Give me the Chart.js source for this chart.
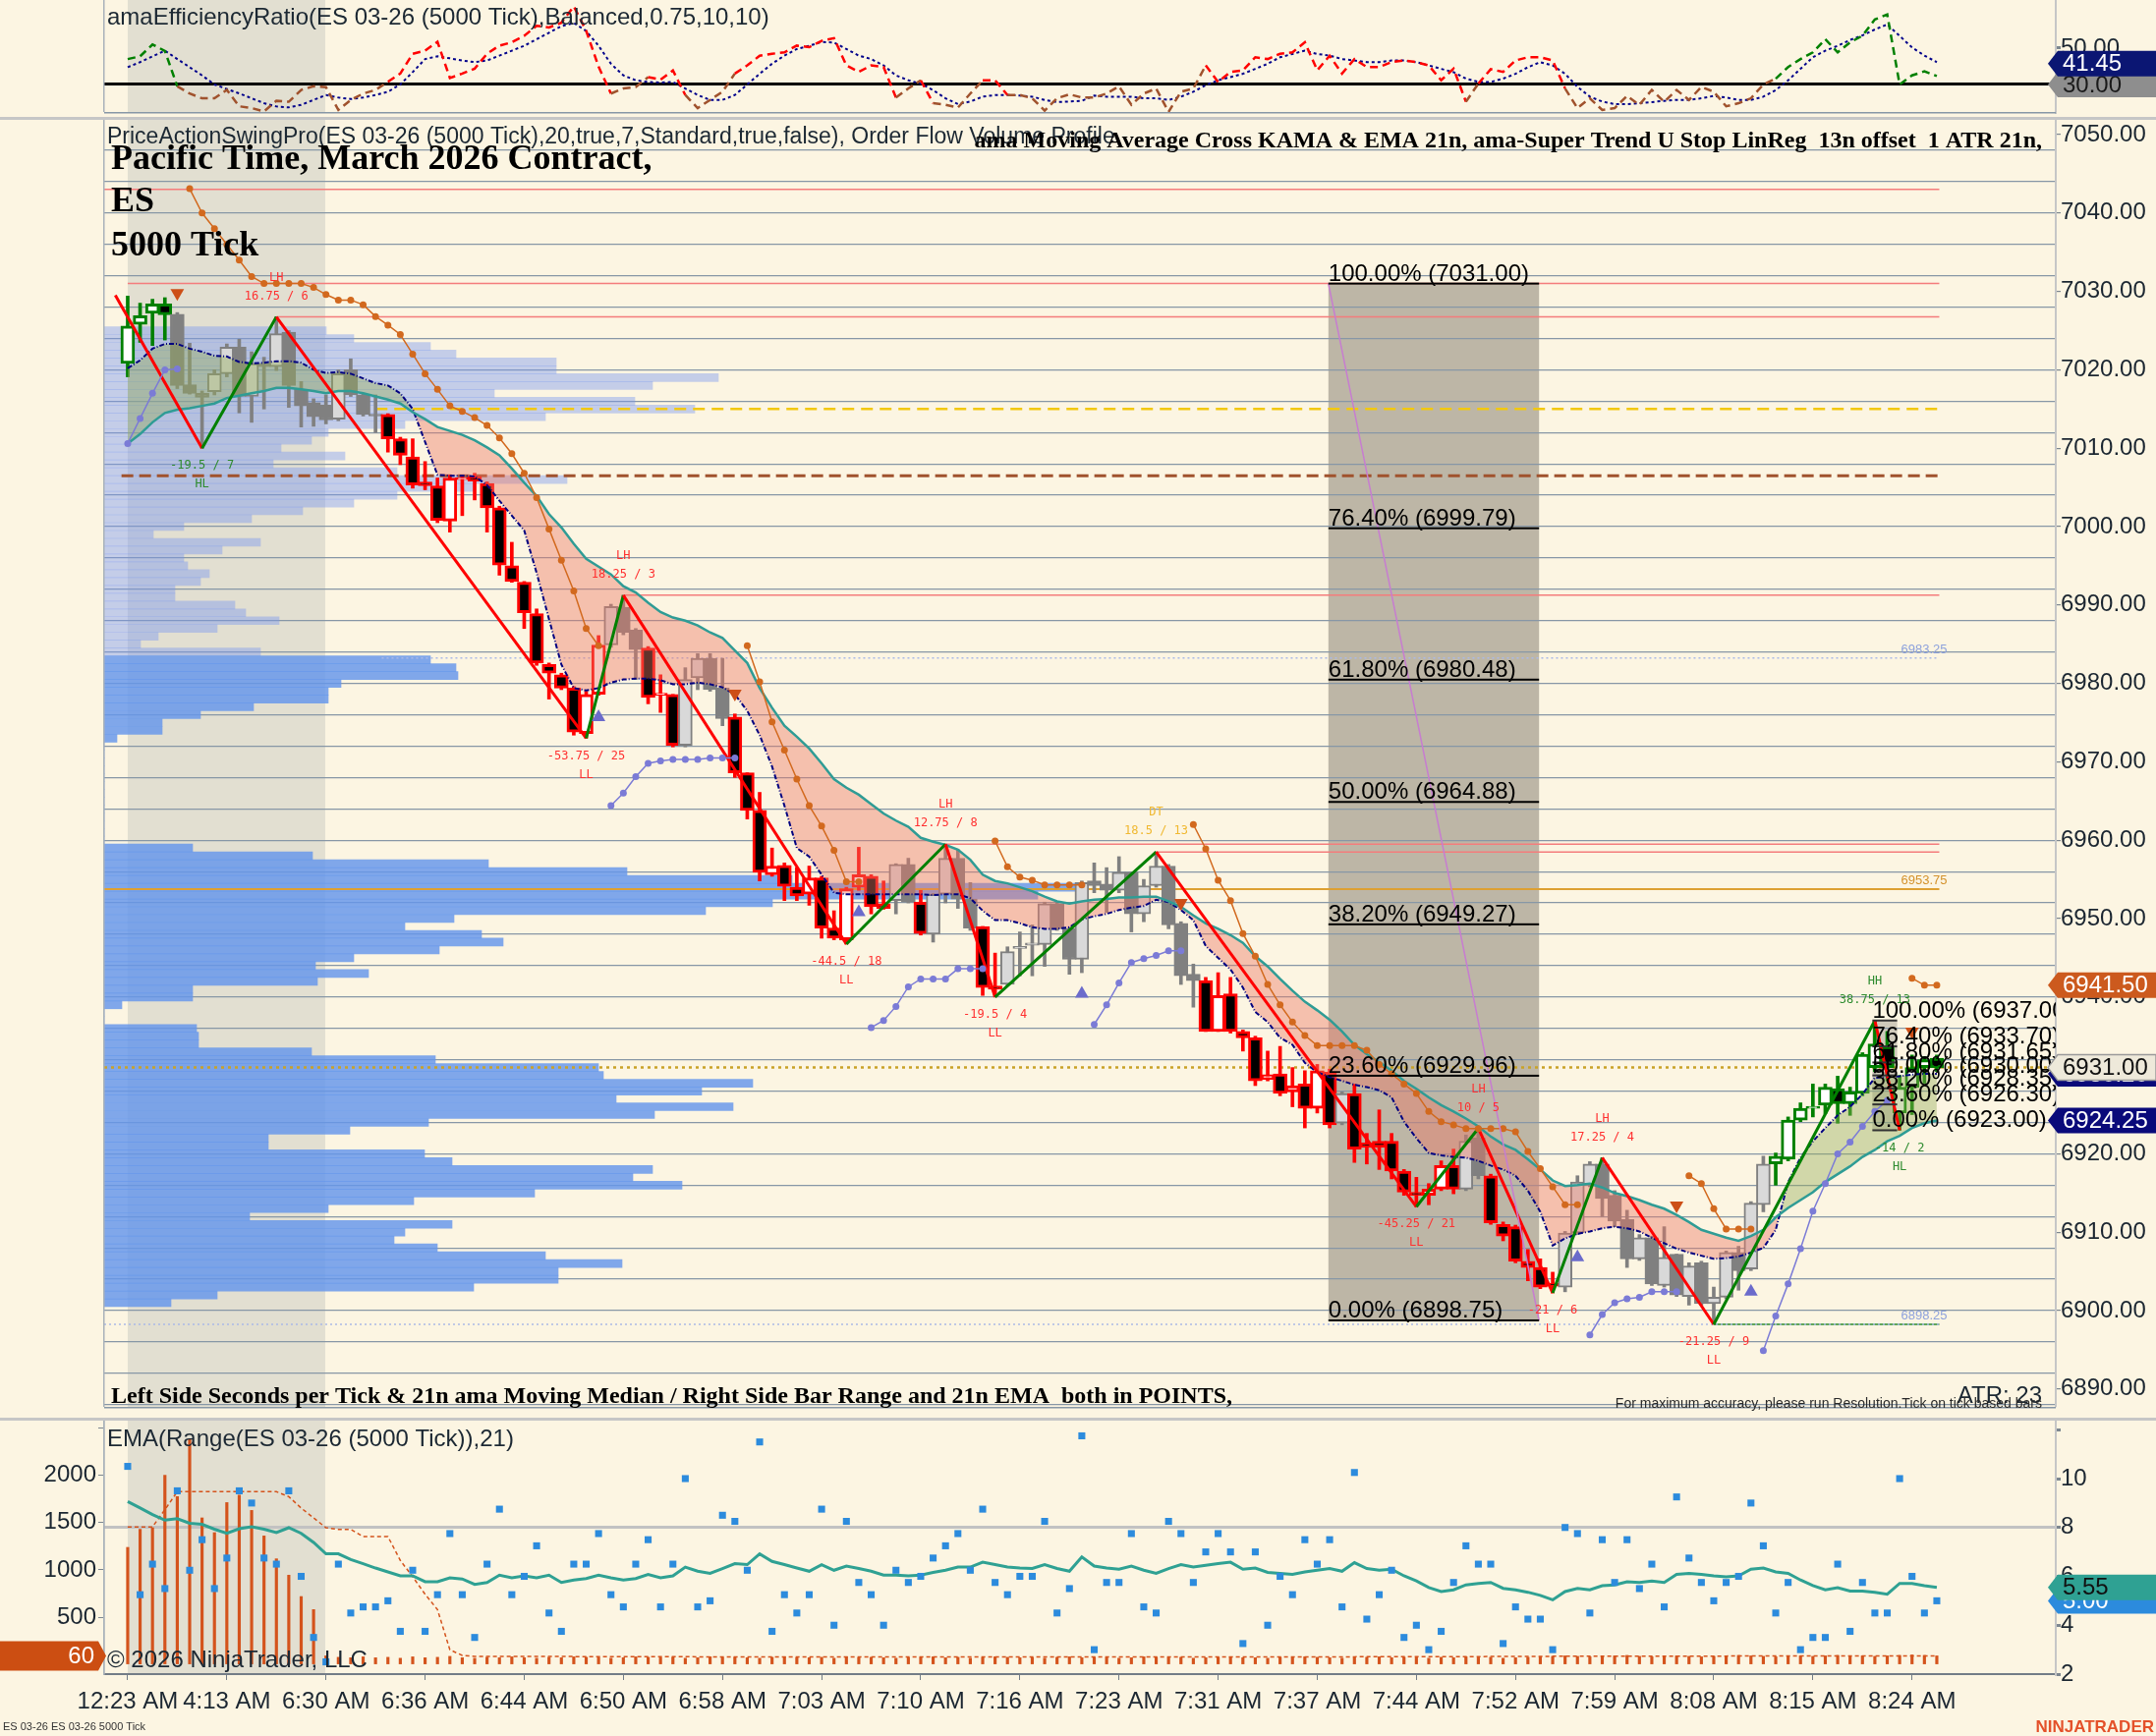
<!DOCTYPE html>
<html>
<head>
<meta charset="utf-8">
<title>ES 03-26 5000 Tick</title>
<script src="https://cdn.jsdelivr.net/npm/chart.js@4.4.1/dist/chart.umd.min.js"></script>
<style>
  html, body { margin: 0; padding: 0; background: #FCF5E2; }
  #page { position: relative; width: 2194px; height: 1767px; overflow: hidden; background: #FCF5E2; }
  #page canvas { position: absolute; left: 0; }
</style>
</head>
<body>
<div id="page">
  <canvas id="erChart" width="2194" height="122" style="top:0px"></canvas>
  <canvas id="priceChart" width="2194" height="1324" style="top:122px"></canvas>
  <canvas id="rangeChart" width="2194" height="321" style="top:1446px"></canvas>
</div>
<script>
// ---------- data (one entry per 5000-tick bar) ----------
const timeLabels = ['12:23 AM','4:13 AM','6:30 AM','6:36 AM','6:44 AM','6:50 AM','6:58 AM','7:03 AM','7:10 AM','7:16 AM',
  '7:23 AM','7:31 AM','7:37 AM','7:44 AM','7:52 AM','7:59 AM','8:08 AM','8:15 AM','8:24 AM'];
const LABEL_STEP = 8; // bars between time labels

const open = [7020.8,7025.8,7027.2,7028.4,7027.1,7018.1,7017.0,7017.2,7019.5,7022.9,
  7016.6,7020.8,7020.4,7024.8,7017.5,7015.8,7015.5,7013.7,7020.0,7016.8,
  7014.3,7014.3,7011.2,7008.9,7005.7,7005.2,7000.7,7006.0,7006.4,7005.5,
  7002.4,6995.0,6992.9,6988.9,6982.4,6981.1,6979.4,6973.6,6978.6,6984.9,
  6989.7,6986.8,6984.5,6978.5,6978.6,6972.1,6980.7,6983.2,6979.4,6975.7,
  6968.6,6963.8,6955.6,6956.8,6954.0,6953.1,6955.2,6948.8,6947.3,6954.0,
  6955.4,6951.9,6952.3,6956.9,6952.1,6948.0,6953.1,6957.7,6952.5,6949.0,
  6941.4,6941.6,6946.2,6946.6,6946.7,6951.9,6948.7,6944.8,6954.8,6954.4,
  6953.6,6955.9,6950.6,6954.2,6956.7,6949.4,6942.9,6942.1,6935.6,6940.4,
  6935.6,6934.8,6929.5,6930.2,6927.9,6928.9,6925.8,6930.4,6923.9,6927.7,
  6921.4,6921.6,6921.6,6917.8,6915.1,6914.7,6915.5,6918.5,6915.5,6922.0,
  6917.2,6911.0,6910.7,6906.3,6905.5,6903.5,6903.0,6909.9,6916.0,6918.7,
  6914.7,6911.6,6906.6,6909.3,6903.2,6907.2,6901.8,6906.1,6900.9,6901.7,
  6907.4,6905.3,6913.5,6918.7,6919.3,6924.3,6925.8,6926.2,6928.3,6926.4,
  6927.7,6931.0,6933.7,6925.2,6928.5,6931.0,6932.2];
const high = [7029.4,7028.5,7029.0,7029.2,7027.3,7023.4,7017.3,7020.0,7023.3,7023.9,
  7022.3,7021.6,7026.75,7025.0,7018.5,7016.3,7016.8,7020.0,7021.4,7017.0,
  7016.8,7014.4,7011.4,7011.2,7008.3,7006.2,7006.6,7006.4,7006.8,7005.7,
  7002.6,6998.0,6993.0,6989.5,6982.6,6981.3,6979.6,6979.0,6986.1,6990.1,
  6991.25,6987.0,6984.7,6981.1,6978.6,6982.0,6983.8,6983.8,6983.2,6976.1,
  6968.6,6966.1,6959.0,6957.1,6956.5,6956.7,6955.4,6951.0,6954.0,6959.1,
  6955.6,6954.8,6957.0,6957.7,6953.6,6953.2,6959.5,6958.8,6954.6,6949.0,
  6945.6,6946.4,6948.3,6949.2,6952.1,6952.1,6948.9,6954.8,6957.1,6956.5,
  6957.9,6955.9,6955.0,6958.5,6956.9,6949.6,6944.2,6942.5,6943.1,6942.5,
  6935.8,6935.0,6933.1,6933.7,6931.0,6930.6,6931.4,6930.8,6927.9,6928.9,
  6922.6,6925.6,6922.6,6918.0,6917.0,6916.2,6919.1,6920.6,6922.4,6923.25,
  6917.4,6911.3,6910.9,6907.8,6906.6,6904.9,6910.1,6917.2,6919.0,6919.5,
  6915.3,6912.8,6909.7,6909.5,6910.7,6907.2,6906.1,6906.3,6903.0,6907.6,
  6908.2,6913.9,6919.7,6920.1,6924.7,6926.5,6928.9,6928.9,6929.9,6928.5,
  6932.9,6937.0,6935.6,6930.0,6932.6,6932.4,6932.6];
const low = [7019.1,7023.5,7023.1,7023.8,7017.6,7016.9,7010.0,7016.8,7019.1,7014.5,
  7013.3,7015.0,7019.9,7015.2,7012.7,7012.8,7013.1,7013.5,7016.6,7014.1,
  7012.0,7009.5,7007.9,7004.9,7004.7,7000.5,6999.3,7001.4,7003.4,6999.3,
  6993.8,6992.9,6987.0,6982.3,6978.0,6979.2,6973.4,6973.0,6978.5,6984.6,
  6986.2,6980.5,6977.4,6976.3,6971.9,6971.9,6979.2,6979.0,6974.6,6968.0,
  6962.7,6954.8,6955.4,6952.3,6952.3,6951.7,6947.5,6947.3,6946.75,6953.6,
  6950.6,6951.2,6950.6,6952.0,6947.9,6947.0,6952.0,6951.3,6948.5,6940.2,
  6940.0,6941.4,6942.7,6942.7,6943.9,6948.5,6942.9,6943.1,6953.3,6950.8,
  6953.3,6948.3,6949.6,6954.0,6948.7,6941.6,6938.7,6935.6,6935.6,6935.4,
  6933.1,6928.7,6929.3,6927.4,6926.0,6923.3,6925.2,6923.3,6923.7,6918.9,
  6918.7,6918.0,6916.8,6914.7,6913.25,6913.5,6915.3,6914.9,6915.3,6916.8,
  6911.0,6908.9,6906.1,6903.8,6902.8,6902.25,6902.4,6909.7,6915.8,6912.0,
  6910.7,6905.5,6906.4,6903.2,6903.0,6901.8,6900.7,6900.7,6898.25,6901.5,
  6902.6,6905.1,6912.6,6916.0,6919.1,6924.1,6924.7,6925.1,6923.9,6924.9,
  6927.4,6930.5,6929.3,6923.0,6925.0,6929.0,6930.5];
const close = [7025.6,7026.9,7028.4,7027.0,7018.0,7017.0,7016.5,7019.5,7022.9,7016.6,
  7020.8,7020.4,7024.6,7018.0,7015.4,7014.0,7013.6,7019.5,7016.8,7014.3,
  7014.1,7011.2,7009.1,7005.3,7005.2,7000.8,7006.2,7006.1,7005.8,7002.4,
  6995.1,6993.0,6989.0,6982.6,6981.3,6979.4,6973.8,6978.6,6984.9,6989.8,
  6986.5,6984.3,6978.2,6978.6,6972.1,6980.5,6983.2,6979.2,6975.5,6968.6,
  6963.8,6955.9,6956.7,6954.1,6952.9,6955.2,6948.8,6947.5,6953.8,6955.6,
  6951.5,6951.3,6956.9,6952.1,6948.1,6953.1,6957.7,6952.5,6948.8,6941.2,
  6941.0,6945.8,6946.4,6946.9,6951.9,6948.7,6944.8,6954.6,6954.2,6953.6,
  6955.9,6950.6,6954.2,6956.7,6949.2,6942.7,6942.1,6935.6,6940.2,6935.6,
  6934.8,6929.3,6930.1,6927.7,6928.7,6925.8,6930.6,6923.7,6927.7,6920.6,
  6920.8,6920.8,6917.8,6915.1,6914.7,6915.5,6918.5,6915.5,6921.6,6917.2,
  6911.2,6909.5,6906.3,6905.5,6903.0,6903.1,6909.9,6916.4,6918.7,6914.3,
  6911.4,6906.6,6909.3,6903.4,6906.8,6902.0,6905.7,6900.9,6901.7,6907.4,
  6905.1,6913.7,6918.7,6919.7,6924.3,6925.8,6926.0,6928.5,6926.4,6927.9,
  6932.7,6934.0,6931.0,6928.5,6931.0,6932.0,6931.0];
// bar colouring state: u = up swing (green), d = down swing (red), n = neutral (gray)
const trendRuns = [['u',4],['n',17],['d',18],['n',3],['d',3],['n',4],['d',13],['n',2],['d',1],['n',4],
  ['d',2],['n',16],['d',11],['n',1],['d',9],['n',2],['d',6],['n',17],['u',14]];

const kama = [7020.2,7021.2,7022.7,7023.3,7023.3,7022.7,7022.3,7021.8,7021.7,7021.0,
  7020.8,7020.9,7021.1,7021.1,7020.9,7020.0,7019.6,7019.7,7019.5,7018.9,
  7018.3,7018.0,7017.0,7015.0,7010.8,7006.6,7006.5,7006.5,7006.4,7005.3,
  7003.3,7001.4,6999.5,6994.1,6988.2,6982.4,6979.4,6979.1,6979.4,6980.1,
  6980.5,6980.6,6980.6,6980.4,6979.9,6979.9,6980.1,6979.9,6979.5,6978.6,
  6976.5,6973.4,6969.4,6964.4,6959.0,6957.9,6955.6,6953.3,6953.1,6953.1,
  6953.1,6953.1,6953.1,6953.1,6953.1,6953.0,6953.1,6953.1,6952.6,6951.0,
  6949.8,6949.8,6949.4,6948.9,6948.7,6948.7,6948.9,6949.9,6950.3,6950.6,
  6951.1,6951.4,6951.6,6952.4,6952.1,6951.1,6949.8,6946.5,6945.0,6943.5,
  6941.2,6938.1,6936.8,6934.8,6933.9,6931.6,6930.4,6929.8,6929.3,6928.8,
  6928.5,6928.1,6927.2,6924.1,6922.0,6920.1,6919.8,6919.6,6919.5,6919.1,
  6918.5,6918.0,6917.2,6915.3,6912.6,6908.3,6909.2,6909.8,6910.1,6910.5,
  6910.7,6910.5,6910.1,6909.3,6908.6,6907.9,6907.4,6907.0,6906.6,6906.7,
  6906.9,6907.4,6908.0,6910.3,6916.4,6919.5,6921.6,6923.3,6924.9,6926.0,
  6927.6,6929.7,6929.8,6929.9,6930.1,6930.2,6930.2];
const ema21 = [7010.6,7011.8,7013.3,7014.5,7014.9,7015.1,7015.4,7015.7,7016.4,7016.7,
  7017.0,7017.3,7017.7,7017.7,7017.5,7017.3,7017.0,7017.3,7017.3,7017.0,
  7016.6,7016.2,7015.7,7014.6,7013.7,7012.7,7012.2,7011.7,7011.0,7010.1,
  7009.1,7007.4,7005.6,7003.9,7001.6,6999.9,6997.8,6995.9,6994.9,6993.9,
  6992.4,6991.6,6990.3,6989.1,6988.4,6988.0,6987.4,6986.5,6985.8,6984.2,
  6982.6,6979.4,6976.9,6974.6,6973.2,6971.7,6969.8,6967.8,6966.7,6965.8,
  6964.6,6963.4,6962.5,6961.7,6960.3,6959.8,6959.4,6958.8,6957.5,6955.6,
  6954.8,6954.5,6954.0,6953.5,6952.8,6952.2,6951.9,6952.2,6952.4,6952.5,
  6952.7,6952.7,6952.8,6952.8,6952.2,6951.5,6950.4,6949.4,6948.7,6947.9,
  6946.9,6945.2,6943.9,6942.3,6940.8,6939.4,6938.3,6937.1,6935.6,6933.9,
  6932.7,6931.7,6930.6,6929.3,6928.3,6927.2,6926.2,6925.4,6924.5,6923.5,
  6922.2,6921.2,6920.5,6919.3,6918.0,6916.6,6915.9,6916.0,6916.2,6915.7,
  6915.0,6914.6,6914.1,6913.5,6913.0,6912.2,6911.3,6910.3,6909.8,6909.3,
  6908.9,6909.5,6910.3,6911.9,6913.1,6914.1,6915.1,6916.4,6917.4,6918.4,
  6919.6,6920.5,6921.6,6922.3,6923.3,6923.9,6924.25];

// super trend stops: [first bar, values...]
const upperStopSegments = [
  [5, [7043.1,7040.0,7038.0,7036.0,7034.0,7031.9,7031.0,7031.0,7031.0,7031.0,7030.5,7029.6,7028.9,7028.9,7028.3,7026.8,7025.7,
       7024.5,7022.0,7019.5,7017.5,7015.4,7014.7,7013.9,7012.9,7011.3,7009.3,7006.8,7003.7,6999.7,6995.7,6991.8,6987.0,6984.8]],
  [50, [6984.8,6980.2,6975.1,6971.5,6967.8,6964.4,6961.8,6958.7,6954.7,6954.7]],
  [70, [6959.9,6956.6,6955.3,6954.9,6954.3,6954.3,6954.3,6954.3]],
  [86, [6962.0,6958.9,6954.9,6952.3,6948.1,6945.2,6941.6,6939.0,6936.8,6935.1,6933.8,6933.8,6933.8,6933.8,6933.2,6931.4,
        6930.2,6928.9,6927.7,6925.4,6924.1,6923.7,6923.2,6923.2,6923.2,6923.2,6922.8,6920.3,6918.1,6915.8,6913.5,6913.5]],
  [126, [6917.2,6916.2,6913.0,6910.4,6910.4,6910.4]],
  [144, [6942.4,6941.5,6941.5]],
];
const lowerStopSegments = [
  [0, [7010.6,7013.8,7017.0,7020.0,7020.1]],
  [39, [6964.4,6966.0,6968.1,6969.8,6970.1,6970.3,6970.3,6970.3,6970.5,6970.5,6970.5]],
  [60, [6936.1,6937.0,6938.8,6941.3,6942.3,6942.3,6942.3,6943.6,6943.6,6943.6]],
  [78, [6936.5,6939.0,6941.8,6944.4,6944.9,6945.3,6945.9,6945.9]],
  [118, [6896.9,6899.5,6901.0,6901.5,6901.7,6902.4,6902.4,6902.4]],
  [132, [6894.9,6899.3,6903.4,6907.9,6912.7,6916.2,6920.0,6921.5,6923.5,6925.4,6926.8]],
];
const triUpBar = [38, 59, 77, 117, 131];
const triUpPrice = [6975.7, 6950.8, 6940.4, 6906.8, 6902.4];
const triDownBar = [4, 49, 85, 125, 144];
const triDownPrice = [7029.8, 6978.7, 6952.0, 6913.4, 6935.6];

// price action swing zig-zag
const zigzagBar = [-1, 6, 12, 37, 40, 58, 66, 70, 83, 104, 109, 115, 119, 128, 141, 143];
const zigzagPrice = [7029.5, 7010.0, 7026.75, 6973.0, 6991.25, 6946.75, 6959.5, 6940.0, 6958.5, 6913.25,
  6923.25, 6902.25, 6919.5, 6898.25, 6937.0, 6923.0];
const zigzagTag = ['', 'HL', 'LH', 'LL', 'LH', 'LL', 'LH', 'LL', 'DT', 'LL', 'LH', 'LL', 'LH', 'LL', 'HH', 'HL'];
const swingLevelPrice = [7043.0, 7031.0, 7026.75, 6991.25, 6959.5, 6958.5];
const swingLevelFrom = [-1.9, 0, 12, 40, 66, 83];

// horizontal reference levels
const refLevelPrice = [7015.0, 7006.5, 6953.75, 6983.25, 6898.25, 6898.25, 6931.0];
const refLevelFrom = [18.5, -0.5, -1.9, 20.5, -1.9, 128, -1.9];
const refTagPrice = [6983.25, 6953.75, 6898.25];

// Fibonacci retracements
const fibPct = [100, 76.4, 61.8, 50, 38.2, 23.6, 0];
const fibBigPrice = [7031.00, 6999.79, 6980.48, 6964.88, 6949.27, 6929.96, 6898.75];
const fibBigBars = [96.9, 113.9];
const fibSmallPrice = [6937.00, 6933.70, 6931.65, 6930.00, 6928.35, 6926.30, 6923.00];
const fibSmallBars = [140.8, 142.8];

// order flow volume profile, one row per point from the top row down
const profileTop = 7025;
const profileVolume = [226,254,332,358,460,460,625,558,397,540,
  601,449,306,228,211,180,245,172,298,471,
  376,298,254,202,150,81,50,159,120,81,
  85,107,98,72,72,133,144,178,115,55,
  37,159,332,358,360,241,228,228,152,98,
  59,59,13,0,0,0,0,0,0,0,
  0,0,0,0,0,0,90,212,391,532,
  700,990,950,680,612,356,306,384,406,341,
  254,215,269,217,90,90,18,0,0,94,
  96,96,211,337,503,508,660,608,521,640,
  560,330,250,167,167,326,354,558,538,588,
  438,315,228,148,354,306,295,339,449,527,
  462,462,376,115,68];
const VALUE_AREA_TOP = 6983.5;

// efficiency ratio panel
const erRaw = [44.0,45.5,52.0,48.5,29.0,25.0,22.4,22.4,27.0,18.0,
  17.0,15.2,21.0,20.5,27.0,29.0,28.5,16.0,21.5,25.0,
  27.0,31.5,36.0,46.9,48.6,53.5,33.6,36.0,38.7,46.9,
  51.4,53.2,56.8,62.3,61.4,64.0,73.0,59.6,39.8,25.0,
  27.8,28.6,34.0,32.7,37.7,24.2,17.0,21.5,26.0,36.0,
  40.5,45.8,46.9,47.7,51.4,50.5,54.0,55.5,40.5,36.9,
  40.5,39.6,22.8,27.8,32.3,19.7,18.8,17.3,25.0,32.3,
  32.3,24.2,24.2,22.4,15.6,22.4,24.6,22.8,22.8,25.0,
  29.0,18.8,25.0,27.8,14.9,26.0,27.8,40.5,31.4,36.9,
  37.8,45.0,44.0,46.9,47.7,53.2,37.8,45.8,36.0,44.0,
  39.6,39.6,42.3,43.2,42.3,40.5,32.3,38.7,20.5,30.5,
  38.4,36.9,43.2,45.0,45.0,43.2,27.8,17.0,22.4,16.0,
  17.0,23.7,18.8,27.0,20.5,27.0,21.5,28.6,26.0,18.0,
  19.7,22.4,30.0,33.2,39.6,44.0,47.7,54.9,47.7,53.2,
  56.8,65.8,68.5,30.0,35.0,37.2,34.7];
const erSmooth = [39.5,42.3,45.5,48.6,44.0,39.5,35.0,30.0,27.5,25.1,
  22.4,19.7,17.9,17.4,18.8,21.5,24.2,22.8,22.0,22.8,
  24.2,26.0,30.0,36.8,44.0,45.5,44.4,43.2,42.3,43.2,
  45.9,48.6,51.3,54.9,58.5,62.1,63.9,59.4,51.3,41.4,
  35.0,32.3,31.4,31.1,31.4,27.8,24.2,21.5,21.5,24.2,
  30.0,35.9,41.4,45.9,49.5,51.3,53.4,53.1,49.5,45.9,
  44.0,40.5,35.0,32.3,30.5,26.9,22.4,19.2,20.6,23.3,
  24.2,24.2,23.9,23.3,21.5,20.3,20.6,21.0,23.9,23.3,
  23.3,23.3,22.4,22.4,21.5,23.3,26.0,29.6,32.3,34.1,
  35.9,38.6,41.4,45.0,46.8,48.6,46.8,45.9,44.0,43.2,
  42.3,42.3,43.2,43.2,42.3,40.5,38.6,36.8,33.2,31.4,
  31.4,33.2,35.9,39.5,42.3,40.5,35.9,28.7,23.3,20.6,
  19.2,19.2,19.7,20.3,21.0,21.5,21.5,22.4,23.7,22.8,
  21.5,21.5,23.3,26.9,32.3,38.6,45.0,48.6,51.3,54.5,
  57.0,60.3,63.0,56.7,50.4,45.9,42.3];
const erThreshold = 30;
const erTicks = [30, 50];
const erTagValue = [30.00, 41.45];

// bottom panel: seconds per tick (left) and bar range (right)
const secPerTick = [1238,1429,1446,2001,1775,2383,1550,1394,1712,1792,1629,1359,1117,944,718,580,
  90,75,70,80,70,75,65,80,70,75, 85,70,65,75,70,80,70,65,75,70,
  80,75,70,65,70,80,75,70,75,65, 70,80,70,75,70,65,75,80,70,70,
  75,65,80,70,75,70,65,70,75,80, 70,75,65,70,80,75,70,70,65,75,
  80,70,75,70,65,70,80,75,70,75, 65,70,75,80,70,70,65,75,70,80,
  75,70,65,70,75,80,70,75,70,65, 75,70,80,70,75,65,70,75,80,85,
  90,85,80,85,90,95,85,80,85,90, 85,80,85,90,95,90,85,80,85,90,
  85,90,95,85,90,85,90,95,100,95,90];
const secMedian = [1455,1455,1455,1636,1827,1827,1827,1827,1827,1827,
  1827,1827,1827,1775,1654,1550,1446,1429,1429,1352,
  1352,1352,1100,927,742,580,154,95,85,85,
  85,84,84,84,83,83,83,82,82,82,
  82,82,81,81,81,81,80,80,80,80,
  80,80,80,80,80,80,80,80,80,80,
  80,80,80,80,80,80,80,80,80,80,
  80,80,80,80,80,80,80,80,80,80,
  80,80,80,80,80,80,80,80,80,80,
  80,80,80,80,80,80,80,80,80,80,
  82,82,82,82,82,82,82,82,82,82,
  84,84,84,84,84,86,86,86,86,86,
  86,88,88,88,88,88,88,88,88,88,
  90,90,90,90,90,90,90,90,90,90,
  90,90,90,90,90,90,90];
const secTagText = '60';
const barRange = [10.5,5.25,6.5,5.5,9.5,6.25,7.5,5.5,6.75,9.5,
  9.0,6.75,6.5,9.5,6.0,3.5,2.5,6.5,4.5,4.75,
  4.75,5.0,3.75,6.25,3.75,5.25,7.75,5.25,3.5,6.5,
  8.75,5.25,6.0,7.25,4.5,3.75,6.5,6.5,7.75,5.25,
  4.75,6.5,7.5,4.75,6.5,10.0,4.75,5.0,8.5,8.25,
  6.25,11.5,3.75,5.25,4.5,5.25,8.75,4.0,8.25,5.75,
  5.25,4.0,6.25,5.75,6.0,6.75,7.25,7.75,6.25,8.75,
  5.75,5.25,6.0,6.0,8.25,4.5,5.5,11.75,3.0,5.75,
  5.75,7.75,4.75,4.5,8.25,7.75,5.75,7.0,7.75,7.0,
  3.25,7.0,4.0,6.0,5.25,7.5,6.5,7.5,4.75,10.25,
  4.25,5.25,6.25,3.5,4.0,3.0,3.75,5.75,7.25,6.5,
  6.5,3.25,4.75,4.25,4.25,3.0,8.0,7.75,4.5,7.5,
  5.75,7.5,5.5,6.5,4.75,9.25,6.75,5.75,5.0,5.75,
  6.0,9.0,7.25,4.5,5.75,3.0,3.5,3.5,6.5,3.75,
  5.75,4.5,4.5,10.0,6.0,4.5,5.0];
const rangeEma = [9.06,8.8,8.53,8.3,8.36,8.17,8.13,7.93,7.76,7.95,
  8.03,7.93,7.79,7.99,7.76,7.39,6.92,6.92,6.69,6.52,
  6.34,6.18,6.02,6.02,5.78,5.78,5.94,5.89,5.67,5.75,
  6.05,5.94,6.02,5.94,6.05,5.75,5.85,5.91,6.05,5.94,
  5.85,5.91,6.08,5.94,6.02,6.38,6.21,6.12,6.32,6.52,
  6.48,6.92,6.61,6.48,6.34,6.21,6.48,6.25,6.42,6.32,
  6.21,6.05,6.05,6.02,6.05,6.16,6.25,6.38,6.38,6.58,
  6.48,6.38,6.34,6.32,6.48,6.32,6.21,6.79,6.42,6.34,
  6.29,6.42,6.25,6.12,6.32,6.48,6.38,6.45,6.52,6.58,
  6.29,6.34,6.16,6.12,6.08,6.18,6.25,6.32,6.21,6.56,
  6.32,6.25,6.29,6.02,5.81,5.54,5.38,5.45,5.65,5.71,
  5.75,5.51,5.45,5.35,5.22,5.04,5.38,5.51,5.45,5.62,
  5.65,5.78,5.75,5.81,5.75,6.08,6.12,6.08,6.02,5.98,
  6.02,6.29,6.34,6.18,6.12,5.85,5.62,5.45,5.54,5.40,
  5.40,5.35,5.27,5.71,5.71,5.62,5.55];
const rangeTagValue = [5.00, 5.55];
const priceTagValue = [6930.2, 6931.0, 6941.5, 6924.25];

// ---------- layout / style ----------
const W = 2194, PLOT_L = 106, AXIS_W = 102;
const X_MIN = -1.9, X_MAX = 155.6, LEVEL_END = 146.2;
const SESSION = [0, 15.94];
const SHADE = '#E2DFD1';
const SANS = '"Liberation Sans", Arial, sans-serif';
const SERIF = '"Liberation Serif", "Times New Roman", serif';
const MONO = '"DejaVu Sans Mono", monospace';
const AXIS_FONT = { family: 'Liberation Sans', size: 24 };
const AXIS_TEXT = '#1B2631';
const CLEAR = 'rgba(0,0,0,0)';
const TREND_STYLE = {
  u: { edge: '#008000', up: '#FFFFFF', down: '#000000', width: 3 },
  d: { edge: '#FF0000', up: '#FFFFFF', down: '#000000', width: 3 },
  n: { edge: '#808080', up: '#D9D9D9', down: '#808080', width: 2 },
};

const trend = trendRuns.flatMap(([t, n]) => Array(n).fill(t));
const bars = open.map((_, i) => i);
const pts = arr => arr.map((v, i) => ({ x: i, y: v }));
function fromSegments(segs) {
  const out = open.map(() => null);
  segs.forEach(([start, vals]) => vals.forEach((v, k) => { out[start + k] = v; }));
  return out;
}
const upperStop = fromSegments(upperStopSegments);
const lowerStop = fromSegments(lowerStopSegments);
const profilePrice = profileVolume.map((_, k) => profileTop - k);

const fixWidth = w => s => { s.width = w; s.paddingTop = 0; s.paddingBottom = 0; };
const fixHeight = h => s => { s.height = h; s.paddingLeft = 0; s.paddingRight = 0; };
const hiddenX = () => ({ type: 'linear', axis: 'x', display: false, bounds: 'data', offset: false,
  grid: { offset: false }, min: X_MIN, max: X_MAX });
const tickVal = c => (c.tick ? c.tick.value : NaN);
const isTen = v => Math.abs(v - Math.round(v)) < 1e-6 && Math.round(v) % 10 === 0;

function baseOptions(extra) {
  return Object.assign({
    responsive: false, animation: false, devicePixelRatio: 1, events: [],
    plugins: { legend: { display: false }, tooltip: { enabled: false } },
  }, extra);
}

function shadeSession(chart) {
  const { ctx, chartArea: a, scales: { x } } = chart;
  const x0 = x.getPixelForValue(SESSION[0]), x1 = x.getPixelForValue(SESSION[1]);
  ctx.save();
  ctx.fillStyle = SHADE;
  ctx.fillRect(x0, a.top, x1 - x0, a.bottom - a.top);
  ctx.restore();
}

function axisTag(ctx, yc, str, bg, fg, border) {
  const h = 26, x0 = 2084, x1 = 2094;
  ctx.save();
  ctx.beginPath();
  ctx.moveTo(x0, yc); ctx.lineTo(x1, yc - h / 2); ctx.lineTo(W, yc - h / 2);
  ctx.lineTo(W, yc + h / 2); ctx.lineTo(x1, yc + h / 2); ctx.closePath();
  ctx.fillStyle = bg; ctx.fill();
  if (border) { ctx.strokeStyle = border; ctx.lineWidth = 1.5; ctx.stroke(); }
  ctx.fillStyle = fg; ctx.font = `24px ${SANS}`;
  ctx.textAlign = 'left'; ctx.textBaseline = 'middle';
  ctx.fillText(str, 2099, yc + 1);
  ctx.restore();
}

function text(ctx, str, x, y, font, color, align) {
  ctx.font = font; ctx.fillStyle = color;
  ctx.textAlign = align || 'left'; ctx.textBaseline = 'middle';
  ctx.fillText(str, x, y);
}

function frame(ctx, a, sepY) {
  ctx.save();
  ctx.fillStyle = '#A9B2BA';
  ctx.fillRect(PLOT_L - 1, 0, 1.5, a.bottom);
  if (sepY !== undefined) {
    ctx.fillStyle = '#8797A6';
    ctx.fillRect(PLOT_L, a.bottom, a.right - PLOT_L, 1.5);
    ctx.fillStyle = '#C6C6C6';
    ctx.fillRect(0, sepY, W, 3);
  }
  ctx.restore();
}

// ---------- efficiency ratio panel ----------
const erDeco = {
  id: 'erDeco',
  beforeDraw: shadeSession,
  afterDraw(chart) {
    const { ctx, chartArea: a, scales: { y } } = chart;
    frame(ctx, a, 119);
    ctx.save();
    text(ctx, 'amaEfficiencyRatio(ES 03-26 (5000 Tick),Balanced,0.75,10,10)', 109, 18, `24px ${SANS}`, '#1C2833');
    axisTag(ctx, y.getPixelForValue(erTagValue[0]), erTagValue[0].toFixed(2), '#8E8E8E', '#1A1A1A');
    axisTag(ctx, y.getPixelForValue(erTagValue[1]), erTagValue[1].toFixed(2), '#0B1673', '#FFFFFF');
    ctx.restore();
  },
};

function erSegColor(i) {
  if (trend[i] === 'u') return '#008000';
  return erRaw[i] > erThreshold ? '#FF0000' : '#A0522D';
}

new Chart(document.getElementById('erChart'), {
  type: 'line',
  data: { datasets: [
    { label: 'Efficiency ratio', data: pts(erRaw), borderColor: '#A0522D', borderWidth: 2.5, borderDash: [8, 5],
      pointRadius: 0, segment: { borderColor: c => erSegColor(c.p0DataIndex) } },
    { label: 'Smoothed', data: pts(erSmooth), borderColor: '#00008B', borderWidth: 2, borderDash: [3, 3], pointRadius: 0 },
  ] },
  options: baseOptions({
    layout: { autoPadding: false, padding: { left: PLOT_L, right: 0, top: 0, bottom: 8 } },
    scales: {
      x: hiddenX(),
      y: {
        type: 'linear', axis: 'y', position: 'right', bounds: 'data', offset: false, min: 14.86, max: 76.49,
        afterFit: fixWidth(AXIS_W),
        afterBuildTicks: s => { s.ticks = erTicks.map(v => ({ value: v })); },
        border: { display: true, color: '#C6C6C6', width: 2 },
        grid: {
          offset: false, color: c => (tickVal(c) === erThreshold ? '#000000' : CLEAR),
          lineWidth: 3, tickLength: 5, tickColor: '#7D8790',
        },
        ticks: { color: AXIS_TEXT, font: AXIS_FONT, padding: 0, callback: v => (v === erThreshold ? '' : v.toFixed(2)) },
      },
    },
  }),
  plugins: [erDeco],
});

// ---------- price panel ----------
const refLevelStyle = [
  { color: '#F2C80F', width: 2.5, dash: [12, 7] },
  { color: '#A0522D', width: 3, dash: [12, 6] },
  { color: '#DDA032', width: 2, dash: [] },
  { color: '#AAB9E6', width: 1.5, dash: [2, 3] },
  { color: '#AAB9E6', width: 1.5, dash: [2, 3] },
  { color: '#2E8B2E', width: 1.5, dash: [] },
  { color: '#C9A227', width: 2.5, dash: [3, 4] },
];
const refTagColor = ['#8EA2DC', '#D4922C', '#8EA2DC'];
const lvl = (price, from, to, color, width, dash) => ({
  type: 'line', data: [{ x: from, y: price }, { x: to, y: price }], borderColor: color, borderWidth: width,
  borderDash: dash, pointRadius: 0, order: 60,
});
const levelDatasets = [
  ...swingLevelPrice.map((p, k) => lvl(p, swingLevelFrom[k], LEVEL_END, '#F47C7C', 1.5, [])),
  ...refLevelPrice.map((p, k) => lvl(p, refLevelFrom[k], k === refLevelPrice.length - 1 ? X_MAX : LEVEL_END,
    refLevelStyle[k].color, refLevelStyle[k].width, refLevelStyle[k].dash)),
];

function drawFib(ctx, x, y, a, barsRange, prices, underlineColor) {
  const x0 = x.getPixelForValue(barsRange[0]), x1 = x.getPixelForValue(barsRange[1]);
  ctx.save();
  ctx.beginPath(); ctx.rect(a.left, a.top, a.right - a.left, a.bottom - a.top); ctx.clip();
  ctx.font = `24px ${SANS}`; ctx.textAlign = 'left'; ctx.textBaseline = 'alphabetic';
  prices.forEach((p, k) => {
    const py = y.getPixelForValue(p);
    ctx.fillStyle = underlineColor;
    ctx.fillRect(x0, py - 1, x1 - x0, 2);
    ctx.fillStyle = '#000000';
    ctx.fillText(`${fibPct[k].toFixed(2)}% (${p.toFixed(2)})`, x0, py - 3);
  });
  ctx.restore();
}

const tagColor = t => (t === 'HH' || t === 'HL' ? '#2E8B2E' : t === 'DT' ? '#F0B830' : '#FF3030');

const priceDeco = {
  id: 'priceDeco',
  beforeDraw(chart) {
    shadeSession(chart);
    const { ctx, scales: { x, y } } = chart;
    ctx.save();
    const bx0 = x.getPixelForValue(fibBigBars[0]), bx1 = x.getPixelForValue(fibBigBars[1]);
    const by0 = y.getPixelForValue(fibBigPrice[0]), by1 = y.getPixelForValue(fibBigPrice[fibBigPrice.length - 1]);
    ctx.fillStyle = '#BDB6A6';
    ctx.fillRect(bx0, by0, bx1 - bx0, by1 - by0);
    const sx0 = x.getPixelForValue(fibSmallBars[0]), sx1 = x.getPixelForValue(fibSmallBars[1]);
    const sy0 = y.getPixelForValue(fibSmallPrice[0]), sy1 = y.getPixelForValue(fibSmallPrice[fibSmallPrice.length - 1]);
    ctx.fillStyle = 'rgba(170,166,155,0.55)';
    ctx.fillRect(sx0, sy0, sx1 - sx0, sy1 - sy0);
    ctx.restore();
  },
  afterDatasetsDraw(chart) {
    const { ctx, chartArea: a, scales: { x, y } } = chart;
    ctx.save();
    ctx.strokeStyle = '#C77DD0'; ctx.lineWidth = 1.5;
    ctx.beginPath();
    ctx.moveTo(x.getPixelForValue(fibBigBars[0]), y.getPixelForValue(fibBigPrice[0]));
    ctx.lineTo(x.getPixelForValue(fibBigBars[1]), y.getPixelForValue(fibBigPrice[fibBigPrice.length - 1]));
    ctx.stroke();
    ctx.restore();
    drawFib(ctx, x, y, a, fibBigBars, fibBigPrice, '#000000');
    drawFib(ctx, x, y, a, fibSmallBars, fibSmallPrice, '#333333');

    ctx.save();
    ctx.font = `12px ${MONO}`; ctx.textAlign = 'center'; ctx.textBaseline = 'middle';
    for (let k = 1; k < zigzagBar.length; k++) {
      const px = x.getPixelForValue(zigzagBar[k]), py = y.getPixelForValue(zigzagPrice[k]);
      const up = zigzagPrice[k] > zigzagPrice[k - 1];
      const d = +(zigzagPrice[k] - zigzagPrice[k - 1]).toFixed(2);
      const n = zigzagBar[k] - zigzagBar[k - 1];
      ctx.fillStyle = tagColor(zigzagTag[k]);
      ctx.fillText(`${d} / ${n}`, px, up ? py - 21 : py + 18);
      ctx.fillText(zigzagTag[k], px, up ? py - 40 : py + 37);
    }
    ctx.font = `13px ${SANS}`; ctx.textAlign = 'right'; ctx.textBaseline = 'bottom';
    refTagPrice.forEach((p, k) => {
      ctx.fillStyle = refTagColor[k];
      ctx.fillText(p.toFixed(2), x.getPixelForValue(LEVEL_END) + 8, y.getPixelForValue(p) - 2);
    });
    ctx.restore();
  },
  afterDraw(chart) {
    const { ctx, chartArea: a, scales: { y } } = chart;
    frame(ctx, a, 1321);
    ctx.save();
    text(ctx, 'PriceActionSwingPro(ES 03-26 (5000 Tick),20,true,7,Standard,true,false), Order Flow Volume Profile',
      109, 18, `23px ${SANS}`, '#1C2833');
    text(ctx, 'ama Moving Average Cross KAMA & EMA 21n, ama-Super Trend U Stop LinReg  13n offset  1 ATR 21n,',
      2078, 22, `bold 24px ${SERIF}`, '#000000', 'right');
    text(ctx, 'Pacific Time, March 2026 Contract,', 113, 41, `bold 36px ${SERIF}`, '#000000');
    text(ctx, 'ES', 113, 84, `bold 36px ${SERIF}`, '#000000');
    text(ctx, '5000 Tick', 113, 129, `bold 36px ${SERIF}`, '#000000');
    text(ctx, 'Left Side Seconds per Tick & 21n ama Moving Median / Right Side Bar Range and 21n EMA  both in POINTS,',
      113, 1300, `bold 24px ${SERIF}`, '#000000');
    text(ctx, 'ATR: 23', 2078, 1299, `24px ${SANS}`, '#1C2833', 'right');
    text(ctx, 'For maximum accuracy, please run Resolution.Tick on tick based bars', 2078, 1307, `14px ${SANS}`, '#2A2A2A', 'right');
    const tagBg = ['#0A0A7A', '#EEE9DA', '#CC5A1E', '#0A0A7A'];
    const tagFg = ['#FFFFFF', '#111111', '#FFFFFF', '#FFFFFF'];
    priceTagValue.forEach((v, k) => axisTag(ctx, y.getPixelForValue(v), v.toFixed(2), tagBg[k], tagFg[k], k === 1 ? '#9A9A9A' : null));
    ctx.restore();
  },
};

const TS = TREND_STYLE;
new Chart(document.getElementById('priceChart'), {
  type: 'line',
  data: { datasets: [
    { type: 'bar', label: 'Volume profile', indexAxis: 'y', xAxisID: 'xv', yAxisID: 'y',
      data: profilePrice.map((p, k) => ({ x: profileVolume[k], y: p })),
      backgroundColor: profilePrice.map(p => (p < VALUE_AREA_TOP ? 'rgba(100,150,235,0.82)' : 'rgba(120,150,240,0.42)')),
      barThickness: 8, grouped: false, borderWidth: 0, order: 100 },
    ...levelDatasets,
    { type: 'bar', label: 'Wicks', data: bars.map(i => ({ x: i, y: [low[i], high[i]] })),
      backgroundColor: trend.map(t => TS[t].edge), barThickness: 3, grouped: false, order: 50 },
    { type: 'bar', label: 'Bodies', data: bars.map(i => ({ x: i, y: [open[i], close[i]] })),
      backgroundColor: bars.map(i => (close[i] >= open[i] ? TS[trend[i]].up : TS[trend[i]].down)),
      borderColor: trend.map(t => TS[t].edge), borderWidth: trend.map(t => TS[t].width),
      borderSkipped: false, barThickness: 14, minBarLength: 2, grouped: false, order: 49 },
    { type: 'line', label: 'KAMA', data: pts(kama), borderColor: '#000080', borderWidth: 2, borderDash: [5, 2, 1, 2],
      pointRadius: 0, fill: { target: '+1', above: 'rgba(150,175,90,0.42)', below: 'rgba(235,120,100,0.42)' }, order: 10 },
    { type: 'line', label: 'EMA 21', data: pts(ema21), borderColor: '#2F9C95', borderWidth: 2.5, pointRadius: 0, order: 9 },
    { type: 'line', label: 'Swings', data: zigzagBar.map((b, k) => ({ x: b, y: zigzagPrice[k] })), borderColor: '#FF0000',
      borderWidth: 3, pointRadius: 0, order: 5,
      segment: { borderColor: c => (c.p1.parsed.y > c.p0.parsed.y ? '#008000' : '#FF0000') } },
    { type: 'line', label: 'Upper stop', data: pts(upperStop), borderColor: '#D2691E', borderWidth: 1.5, pointRadius: 3.5,
      pointBackgroundColor: '#D2691E', pointBorderWidth: 0, spanGaps: false, order: 4 },
    { type: 'line', label: 'Lower stop', data: pts(lowerStop), borderColor: '#7B7BD6', borderWidth: 1.5, pointRadius: 3.5,
      pointBackgroundColor: '#7B7BD6', pointBorderWidth: 0, spanGaps: false, order: 4 },
    { type: 'scatter', label: 'Long signal', data: triUpBar.map((b, k) => ({ x: b, y: triUpPrice[k] })), pointStyle: 'triangle',
      pointRadius: 8, pointBackgroundColor: '#6B6BCB', pointBorderWidth: 0, order: 3 },
    { type: 'scatter', label: 'Short signal', data: triDownBar.map((b, k) => ({ x: b, y: triDownPrice[k] })), pointStyle: 'triangle',
      pointRotation: 180, pointRadius: 8, pointBackgroundColor: '#CD4F17', pointBorderWidth: 0, order: 3 },
  ] },
  options: baseOptions({
    layout: { autoPadding: false, padding: { left: PLOT_L, right: 0, top: 0, bottom: 14 } },
    scales: {
      x: hiddenX(),
      xv: { type: 'linear', axis: 'x', display: false, bounds: 'data', offset: false, grid: { offset: false },
        min: 0, max: 1986, position: 'bottom' },
      y: {
        type: 'linear', axis: 'y', position: 'right', bounds: 'data', offset: false, min: 6887.72, max: 7051.88,
        afterFit: fixWidth(AXIS_W),
        afterBuildTicks: s => { const t = []; for (let v = 6888; v <= 7050; v += 2) t.push({ value: v }); s.ticks = t; },
        border: { display: true, color: '#C6C6C6', width: 2 },
        grid: {
          offset: false,
          color: c => (Math.round(tickVal(c)) % 4 === 0 ? '#8797A6' : CLEAR), lineWidth: 1.2,
          tickLength: 5, tickColor: c => (isTen(tickVal(c)) ? '#7D8790' : CLEAR),
        },
        ticks: { autoSkip: false, padding: 0, color: AXIS_TEXT, font: AXIS_FONT, callback: v => (isTen(v) ? Number(v).toFixed(2) : '') },
      },
    },
  }),
  plugins: [priceDeco],
});

// ---------- seconds per tick / range panel ----------
const rangeDeco = {
  id: 'rangeDeco',
  beforeDraw: shadeSession,
  afterDraw(chart) {
    const { ctx, chartArea: a, scales: { yl, yr } } = chart;
    frame(ctx, a);
    ctx.save();
    text(ctx, 'EMA(Range(ES 03-26 (5000 Tick)),21)', 109, 19, `24px ${SANS}`, '#1C2833');
    text(ctx, '\u00A9 2026 NinjaTrader, LLC', 109, 244, `24px ${SANS}`, '#1C2833');
    text(ctx, 'ES 03-26 ES 03-26 5000 Tick', 3, 312, `11px ${SANS}`, '#333333');
    text(ctx, 'NINJATRADER', 2192, 312, `bold 17px ${SANS}`, '#E4512A', 'right');
    axisTag(ctx, yr.getPixelForValue(rangeTagValue[0]), rangeTagValue[0].toFixed(2), '#2C8BDD', '#FFFFFF');
    axisTag(ctx, yr.getPixelForValue(rangeTagValue[1]), rangeTagValue[1].toFixed(2), '#2FA193', '#111111');
    const ly = yl.getPixelForValue(secMedian[secMedian.length - 1]);
    ctx.beginPath();
    ctx.moveTo(0, ly - 15); ctx.lineTo(100, ly - 15); ctx.lineTo(108, ly); ctx.lineTo(100, ly + 15); ctx.lineTo(0, ly + 15);
    ctx.closePath(); ctx.fillStyle = '#CC4E12'; ctx.fill();
    text(ctx, secTagText, 96, ly + 1, `24px ${SANS}`, '#FFFFFF', 'right');
    ctx.restore();
  },
};

new Chart(document.getElementById('rangeChart'), {
  type: 'line',
  data: { datasets: [
    { type: 'bar', label: 'Seconds per tick', yAxisID: 'yl', data: pts(secPerTick), backgroundColor: '#D4531C',
      barThickness: 2.5, grouped: false, order: 20 },
    { type: 'line', label: 'Moving median', yAxisID: 'yl', data: pts(secMedian), borderColor: '#D4531C', borderWidth: 1.5,
      borderDash: [4, 3], pointRadius: 0, order: 15 },
    { type: 'line', label: 'EMA range', yAxisID: 'yr', data: pts(rangeEma), borderColor: '#2FA193', borderWidth: 3,
      pointRadius: 0, order: 6 },
    { type: 'line', label: 'Range', yAxisID: 'yr', data: pts(barRange), showLine: false, pointStyle: 'rect',
      pointRadius: 5, pointBackgroundColor: '#2C8BDD', pointBorderWidth: 0, order: 5 },
  ] },
  options: baseOptions({
    layout: { autoPadding: false, padding: 0 },
    scales: {
      x: {
        type: 'linear', axis: 'x', position: 'bottom', bounds: 'data', offset: false, min: X_MIN, max: X_MAX,
        afterFit: fixHeight(63),
        afterBuildTicks: s => { s.ticks = timeLabels.map((_, k) => ({ value: k * LABEL_STEP })); },
        border: { display: true, color: '#737D87', width: 2 },
        grid: { offset: false, drawOnChartArea: false, tickLength: 6, tickColor: '#737D87' },
        ticks: { autoSkip: false, maxRotation: 0, padding: 8, color: AXIS_TEXT, font: AXIS_FONT,
          callback: (v, k) => timeLabels[k] || '' },
      },
      yl: {
        type: 'linear', axis: 'y', position: 'left', bounds: 'data', offset: false, min: -102.9, max: 2579,
        afterFit: fixWidth(PLOT_L),
        afterBuildTicks: s => { s.ticks = [0, 500, 1000, 1500, 2000, 2500].map(v => ({ value: v })); },
        border: { display: true, color: '#A9B2BA', width: 1.5 },
        grid: { offset: false, drawOnChartArea: false, tickLength: 6, tickColor: c => (tickVal(c) > 0 ? '#7D8790' : CLEAR) },
        ticks: { padding: 2, color: AXIS_TEXT, font: AXIS_FONT, callback: v => (v >= 500 && v <= 2000 ? String(v) : '') },
      },
      yr: {
        type: 'linear', axis: 'y', position: 'right', bounds: 'data', offset: false, min: 2, max: 12.372,
        afterFit: fixWidth(AXIS_W),
        afterBuildTicks: s => { s.ticks = [2, 4, 6, 8, 10, 12].map(v => ({ value: v })); },
        border: { display: true, color: '#C6C6C6', width: 2 },
        grid: { offset: false, color: c => (tickVal(c) === 8 ? '#C2C2C2' : CLEAR), lineWidth: 3, tickLength: 5, tickColor: '#7D8790' },
        ticks: { padding: 0, color: AXIS_TEXT, font: AXIS_FONT, callback: v => (v <= 10 ? String(v) : '') },
      },
    },
  }),
  plugins: [rangeDeco],
});
</script>
</body>
</html>
